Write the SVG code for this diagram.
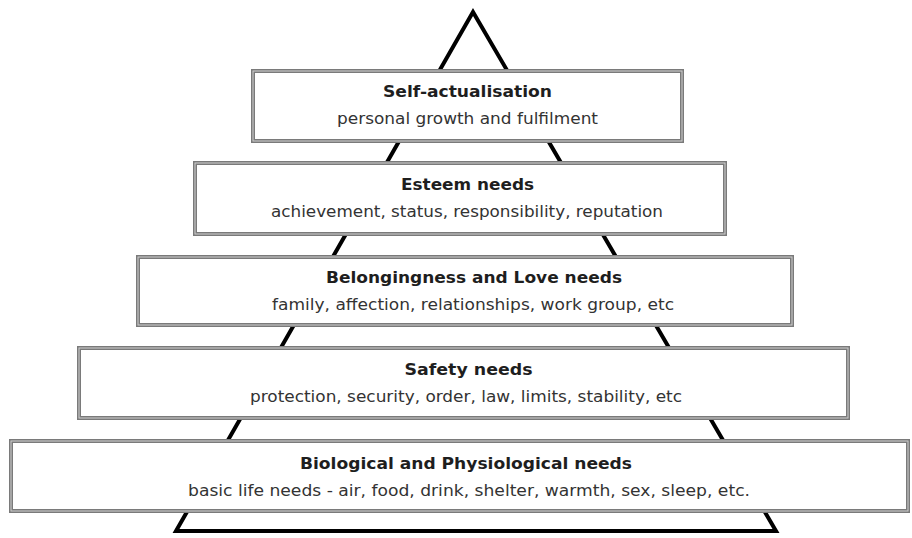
<svg xmlns="http://www.w3.org/2000/svg" width="912" height="538" viewBox="0 0 912 538">
<style>
.frame{fill:#fff;stroke:#7a7a7a;stroke-width:4}
.inner{fill:none;stroke:#cfcfcf;stroke-width:1}
.t{font-family:"DejaVu Sans Condensed","DejaVu Sans","Liberation Sans",sans-serif;font-weight:bold;font-size:16px;fill:#1e1e1e;text-anchor:middle}
.s{font-family:"DejaVu Sans Condensed","DejaVu Sans","Liberation Sans",sans-serif;font-size:15px;fill:#333;text-anchor:middle}
</style>
<rect width="912" height="538" fill="#fff"/>
<g id="connectors">
<polygon points="473,12 176,531 776,531" fill="none" stroke="#000" stroke-width="4" stroke-linejoin="miter"/>
</g>
<g id="self-actualisation">
<rect class="frame" x="253" y="71" width="429" height="70"/>
<rect class="inner" x="253" y="71" width="429" height="70"/>
<text class="t" x="467.5" y="97" textLength="169" lengthAdjust="spacingAndGlyphs">Self-actualisation</text>
<text class="s" x="467.5" y="124" textLength="261" lengthAdjust="spacingAndGlyphs">personal growth and fulfilment</text>
</g>
<g id="esteem">
<rect class="frame" x="195" y="163" width="530" height="71"/>
<rect class="inner" x="195" y="163" width="530" height="71"/>
<text class="t" x="467.5" y="190" textLength="133" lengthAdjust="spacingAndGlyphs">Esteem needs</text>
<text class="s" x="467" y="217" textLength="392" lengthAdjust="spacingAndGlyphs">achievement, status, responsibility, reputation</text>
</g>
<g id="belongingness">
<rect class="frame" x="138" y="257" width="654" height="68"/>
<rect class="inner" x="138" y="257" width="654" height="68"/>
<text class="t" x="474" y="283" textLength="296" lengthAdjust="spacingAndGlyphs">Belongingness and Love needs</text>
<text class="s" x="473" y="310" textLength="402" lengthAdjust="spacingAndGlyphs">family, affection, relationships, work group, etc</text>
</g>
<g id="safety">
<rect class="frame" x="79" y="348" width="769" height="70"/>
<rect class="inner" x="79" y="348" width="769" height="70"/>
<text class="t" x="468.5" y="375" textLength="128" lengthAdjust="spacingAndGlyphs">Safety needs</text>
<text class="s" x="466" y="402" textLength="432" lengthAdjust="spacingAndGlyphs">protection, security, order, law, limits, stability, etc</text>
</g>
<g id="biological">
<rect class="frame" x="11" y="441" width="897" height="70"/>
<rect class="inner" x="11" y="441" width="897" height="70"/>
<text class="t" x="466" y="469" textLength="332" lengthAdjust="spacingAndGlyphs">Biological and Physiological needs</text>
<text class="s" x="469" y="496" textLength="562" lengthAdjust="spacingAndGlyphs">basic life needs - air, food, drink, shelter, warmth, sex, sleep, etc.</text>
</g>
</svg>
